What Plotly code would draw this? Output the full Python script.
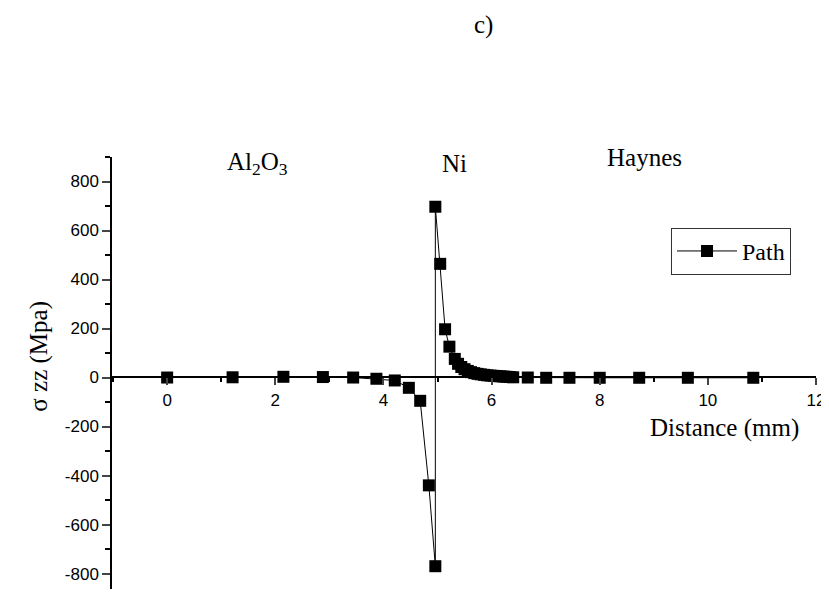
import plotly.graph_objects as go

# path data, distance (mm) vs sigma zz (MPa)
distance = [0, 1.21, 2.15, 2.88, 3.44, 3.87, 4.21, 4.47, 4.68, 4.84, 4.96,
            4.96, 5.05, 5.14, 5.22, 5.32, 5.38, 5.44, 5.50, 5.56, 5.62,
            5.68, 5.74, 5.80, 5.86, 5.92, 5.98, 6.04, 6.10, 6.16, 6.22,
            6.28, 6.34, 6.40, 6.67, 7.01, 7.44, 8.00, 8.73, 9.63, 10.84]
sigma_zz = [0, 1, 3, 2, 0, -5, -12, -42, -95, -440, -770,
            697, 464, 197, 126, 76, 56, 43, 34, 27, 22,
            18, 15, 13, 11, 9, 8, 7, 6, 5, 4,
            3, 2, 1, 0, -1, -1, -1, -1, -1, -1]

x_ticks = [0, 2, 4, 6, 8, 10, 12]
y_ticks = [-800, -600, -400, -200, 0, 200, 400, 600, 800]
y_tick_text = [str(v) for v in y_ticks]

serif = "Liberation Serif, Times New Roman, serif"
sans = "Liberation Sans, Arial, sans-serif"

trace = go.Scatter(
    x=distance, y=sigma_zz, mode='lines+markers', name='Path',
    line=dict(color='black', width=1),
    marker=dict(symbol='square', size=12, color='black'),
)

fig = go.Figure(data=[trace])

# the html page body has an 8px margin, so the figure is a bit smaller
fig.update_layout(
    width=821, height=581,
    margin=dict(l=104, r=13, t=149, b=0),
    paper_bgcolor='white', plot_bgcolor='white',
    showlegend=True,
    legend=dict(x=0.9645, y=0.836, xanchor='right', yanchor='top',
                bordercolor='#333', borderwidth=1, bgcolor='white',
                font=dict(family=serif, size=24, color='black'),
                itemwidth=60),
    xaxis=dict(range=[-1.02, 12], anchor='free', position=0.4896,
               tickvals=x_ticks, ticks='outside', ticklen=7, tickwidth=1.5,
               showline=True, linecolor='black', linewidth=1.5,
               showgrid=False, zeroline=False, ticklabeloverflow='allow',
               minor=dict(dtick=1, ticks='outside', ticklen=4,
                          tickcolor='black', showgrid=False),
               tickfont=dict(family=sans, size=17, color='black')),
    yaxis=dict(range=[-863, 900], tickvals=y_ticks, ticktext=y_tick_text,
               ticks='outside', ticklen=8, tickwidth=1.5,
               showline=True, linecolor='black', linewidth=1.5,
               showgrid=False, zeroline=False,
               minor=dict(dtick=100, ticks='outside', ticklen=5,
                          tickcolor='black', showgrid=False),
               tickfont=dict(family=sans, size=17, color='black')),
)

annotations = [
    dict(text='c)', x=0.527, y=1.3056),
    dict(text='Al<sub>2</sub>O<sub>3</sub>', x=0.207, y=0.986),
    dict(text='Ni', x=0.487, y=0.986),
    dict(text='Haynes', x=0.757, y=0.9977),
    dict(text='Distance (mm)', x=0.870, y=0.3727),
]
for a in annotations:
    fig.add_annotation(text=a['text'], x=a['x'], y=a['y'], xref='paper', yref='paper',
                       showarrow=False, xanchor='center', yanchor='middle',
                       font=dict(family=serif, size=25, color='black'))

fig.add_annotation(text='σ zz (Mpa)', x=-0.103, y=0.539, xref='paper', yref='paper',
                   showarrow=False, textangle=-90, xanchor='center', yanchor='middle',
                   font=dict(family=serif, size=25, color='black'))

fig.write_html("out.html")
